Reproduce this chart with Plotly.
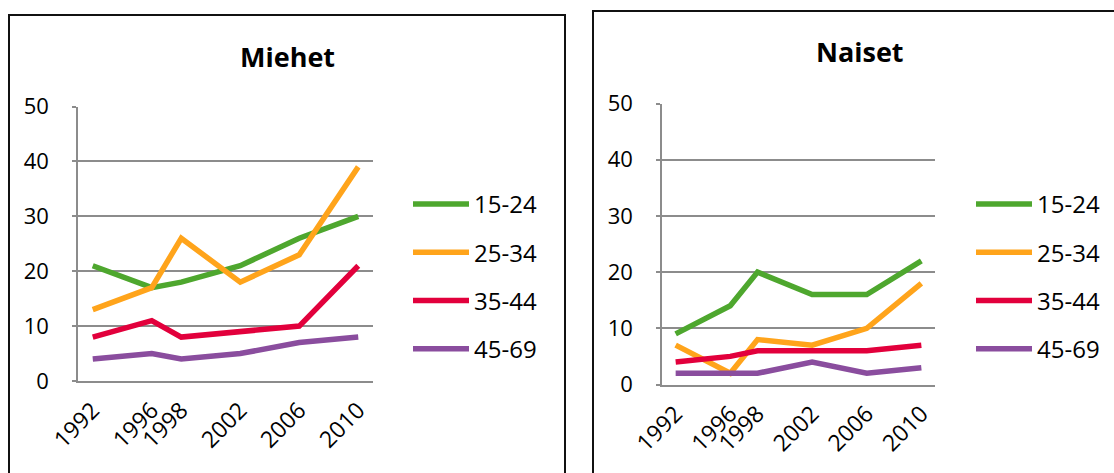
import plotly.graph_objects as go

# Survey years (uneven spacing, drawn on a linear year axis)
years = [1992, 1996, 1998, 2002, 2006, 2010]
age_groups = ["15-24", "25-34", "35-44", "45-69"]
colors = ["#4EA72E", "#FFA41B", "#E2003C", "#8A4D9E"]

# Men, % by age group
miehet_15_24 = [21, 17, 18, 21, 26, 30]
miehet_25_34 = [13, 17, 26, 18, 23, 39]
miehet_35_44 = [8, 11, 8, 9, 10, 21]
miehet_45_69 = [4, 5, 4, 5, 7, 8]

# Women, % by age group
naiset_15_24 = [9, 14, 20, 16, 16, 22]
naiset_25_34 = [7, 2, 8, 7, 10, 18]
naiset_35_44 = [4, 5, 6, 6, 6, 7]
naiset_45_69 = [2, 2, 2, 4, 2, 3]

y_ticks = [0, 10, 20, 30, 40, 50]

W, H = 1114, 473
FONT = "Open Sans"
GRID = "#8C8C8C"

fig = go.Figure()

panels = [
    ("x", "y", "legend", [miehet_15_24, miehet_25_34, miehet_35_44, miehet_45_69]),
    ("x2", "y2", "legend2", [naiset_15_24, naiset_25_34, naiset_35_44, naiset_45_69]),
]
for xa, ya, leg, series in panels:
    for i, (name, vals, col) in enumerate(zip(age_groups, series, colors)):
        fig.add_trace(go.Scatter(
            x=years, y=vals, name=name, mode="lines",
            line=dict(color=col, width=5.5),
            xaxis=xa, yaxis=ya, legend=leg,
            legendgroup=f"{leg}-{i}",
        ))

def px_x(p):
    return p / W

def px_y(p):
    return 1 - p / H

xaxis_style = dict(
    range=[1991, 2011], tickmode="array", tickvals=years,
    tickangle=-45, showgrid=False, zeroline=False, automargin=False,
    showline=True, linecolor=GRID, linewidth=1.5, ticks="", ticklabelstandoff=5,
    tickfont=dict(family=FONT, size=23, color="#000"),
)
yaxis_style = dict(
    range=[0, 50], tickmode="array", tickvals=y_ticks, automargin=False,
    showgrid=True, gridcolor=GRID, gridwidth=1.5,
    zeroline=False, showline=True, linecolor=GRID, linewidth=1.5,
    ticks="outside", ticklen=4, tickcolor=GRID, tickwidth=1.5,
    ticklabelstandoff=19,
    tickfont=dict(family=FONT, size=22, color="#000"),
)

legend_style = dict(
    xanchor="left", yanchor="top",
    font=dict(family=FONT, size=24, color="#000"), tracegroupgap=14,
    itemwidth=56, bgcolor="rgba(0,0,0,0)",
)

fig.update_layout(
    width=W, height=H,
    margin=dict(l=0, r=0, t=0, b=0, autoexpand=False),
    paper_bgcolor="white", plot_bgcolor="white",
    font=dict(family=FONT, color="#000"),
    xaxis=dict(domain=[px_x(78), px_x(373)], anchor="y", **xaxis_style),
    yaxis=dict(domain=[px_y(381), px_y(106.5)], anchor="x", **yaxis_style),
    xaxis2=dict(domain=[px_x(662), px_x(935)], anchor="y2", **xaxis_style),
    yaxis2=dict(domain=[px_y(384.5), px_y(103.5)], anchor="x2", **yaxis_style),
    legend=dict(x=px_x(408), y=px_y(182), **legend_style),
    legend2=dict(x=px_x(971), y=px_y(182), **legend_style),
    showlegend=True,
)

# Chart titles
title_style = dict(xref="paper", yref="paper", xanchor="center", yanchor="middle",
                   showarrow=False, font=dict(family=FONT, size=27, color="#000"))
fig.add_annotation(text="<b>Miehet</b>", x=px_x(287), y=px_y(56), **title_style)
fig.add_annotation(text="<b>Naiset</b>", x=px_x(860), y=px_y(51), **title_style)

# Frames around each chart area
frame = dict(type="rect", xref="paper", yref="paper",
             line=dict(color="#111", width=2), fillcolor="rgba(0,0,0,0)", layer="above")
fig.add_shape(x0=px_x(9), x1=px_x(565), y0=px_y(15), y1=px_y(490), **frame)
fig.add_shape(x0=px_x(593), x1=px_x(1130), y0=px_y(11), y1=px_y(490), **frame)

fig.write_html("out.html")
